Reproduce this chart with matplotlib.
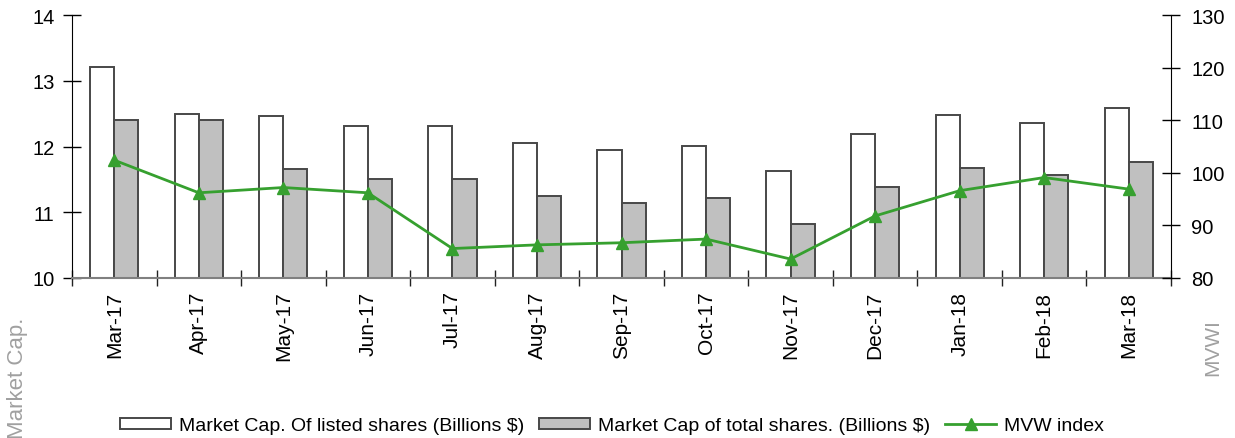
import numpy as np
import matplotlib.pyplot as plt
from matplotlib.ticker import FixedLocator, NullFormatter

plt.rcParams['font.family'] = ['Liberation Sans', 'DejaVu Sans']

# data
months = ['Mar-17', 'Apr-17', 'May-17', 'Jun-17', 'Jul-17', 'Aug-17', 'Sep-17',
          'Oct-17', 'Nov-17', 'Dec-17', 'Jan-18', 'Feb-18', 'Mar-18']
listed_cap = [13.21, 12.50, 12.46, 12.31, 12.31, 12.05, 11.94,
              12.01, 11.62, 12.19, 12.48, 12.36, 12.58]
total_cap = [12.40, 12.40, 11.66, 11.50, 11.50, 11.25, 11.14,
             11.21, 10.82, 11.39, 11.68, 11.57, 11.76]
mvw_index = [102.4, 96.2, 97.2, 96.2, 85.6, 86.3, 86.7,
             87.4, 83.6, 91.8, 96.6, 99.1, 96.9]

edge = '#484848'
green = '#36a02f'
fs = 14.5

fig = plt.figure(figsize=(12.35, 4.39), dpi=100)
ax = fig.add_axes([72/1235, 1-279/439, (1171-72)/1235, (279-16)/439])

x = np.arange(len(months))
w = 0.285
b1 = ax.bar(x - w/2, listed_cap, w, color='white', edgecolor=edge, linewidth=1.4,
            label='Market Cap. Of listed shares (Billions $)')
b2 = ax.bar(x + w/2, total_cap, w, color='#c0c0c0', edgecolor=edge, linewidth=1.4,
            label='Market Cap of total shares. (Billions $)')
ax.set_ylim(10, 14)
ax.set_xlim(-0.5, len(months) - 0.5)
ax.set_yticks([10, 11, 12, 13, 14])

# month labels at the centres, tick marks between months
ax.set_xticks(x)
ax.set_xticklabels(months, rotation=90, fontsize=15)
ax.xaxis.set_minor_locator(FixedLocator(np.arange(-0.5, len(months), 1.0)))
ax.xaxis.set_minor_formatter(NullFormatter())
ax.tick_params(axis='x', which='major', length=0, pad=9)
ax.tick_params(axis='x', which='minor', direction='inout', length=12, width=1, color='#222222')
ax.tick_params(axis='y', direction='inout', length=13, width=1, labelsize=fs, pad=6)

for s in ['top', 'right']:
    ax.spines[s].set_visible(False)
ax.spines['bottom'].set_color('#808080')
ax.spines['bottom'].set_linewidth(1.5)

ax2 = ax.twinx()
l1, = ax2.plot(x, mvw_index, color=green, linewidth=2, marker='^', markersize=9,
               label='MVW index')
ax2.set_ylim(80, 130)
ax2.set_yticks([80, 90, 100, 110, 120, 130])
ax2.tick_params(axis='y', direction='inout', length=13, width=1, labelsize=fs, pad=8)
for s in ['top', 'left', 'bottom']:
    ax2.spines[s].set_visible(False)

fig.text(18/1235, 1-378/439, 'Market Cap.', rotation=90, color='#a0a0a0',
         fontsize=16, ha='center', va='center')
fig.text(1213/1235, 1-348/439, 'MVWI', rotation=90, color='#a0a0a0',
         fontsize=15, ha='center', va='center')

fig.legend([b1, b2, l1], [b1.get_label(), b2.get_label(), l1.get_label()],
           loc='center', bbox_to_anchor=(612/1235, 1-427/439), ncol=3, frameon=False,
           fontsize=14, handlelength=2.6, handleheight=0.5, handletextpad=0.4,
           columnspacing=0.8, borderpad=0)

fig.savefig('out.png', dpi=100)
